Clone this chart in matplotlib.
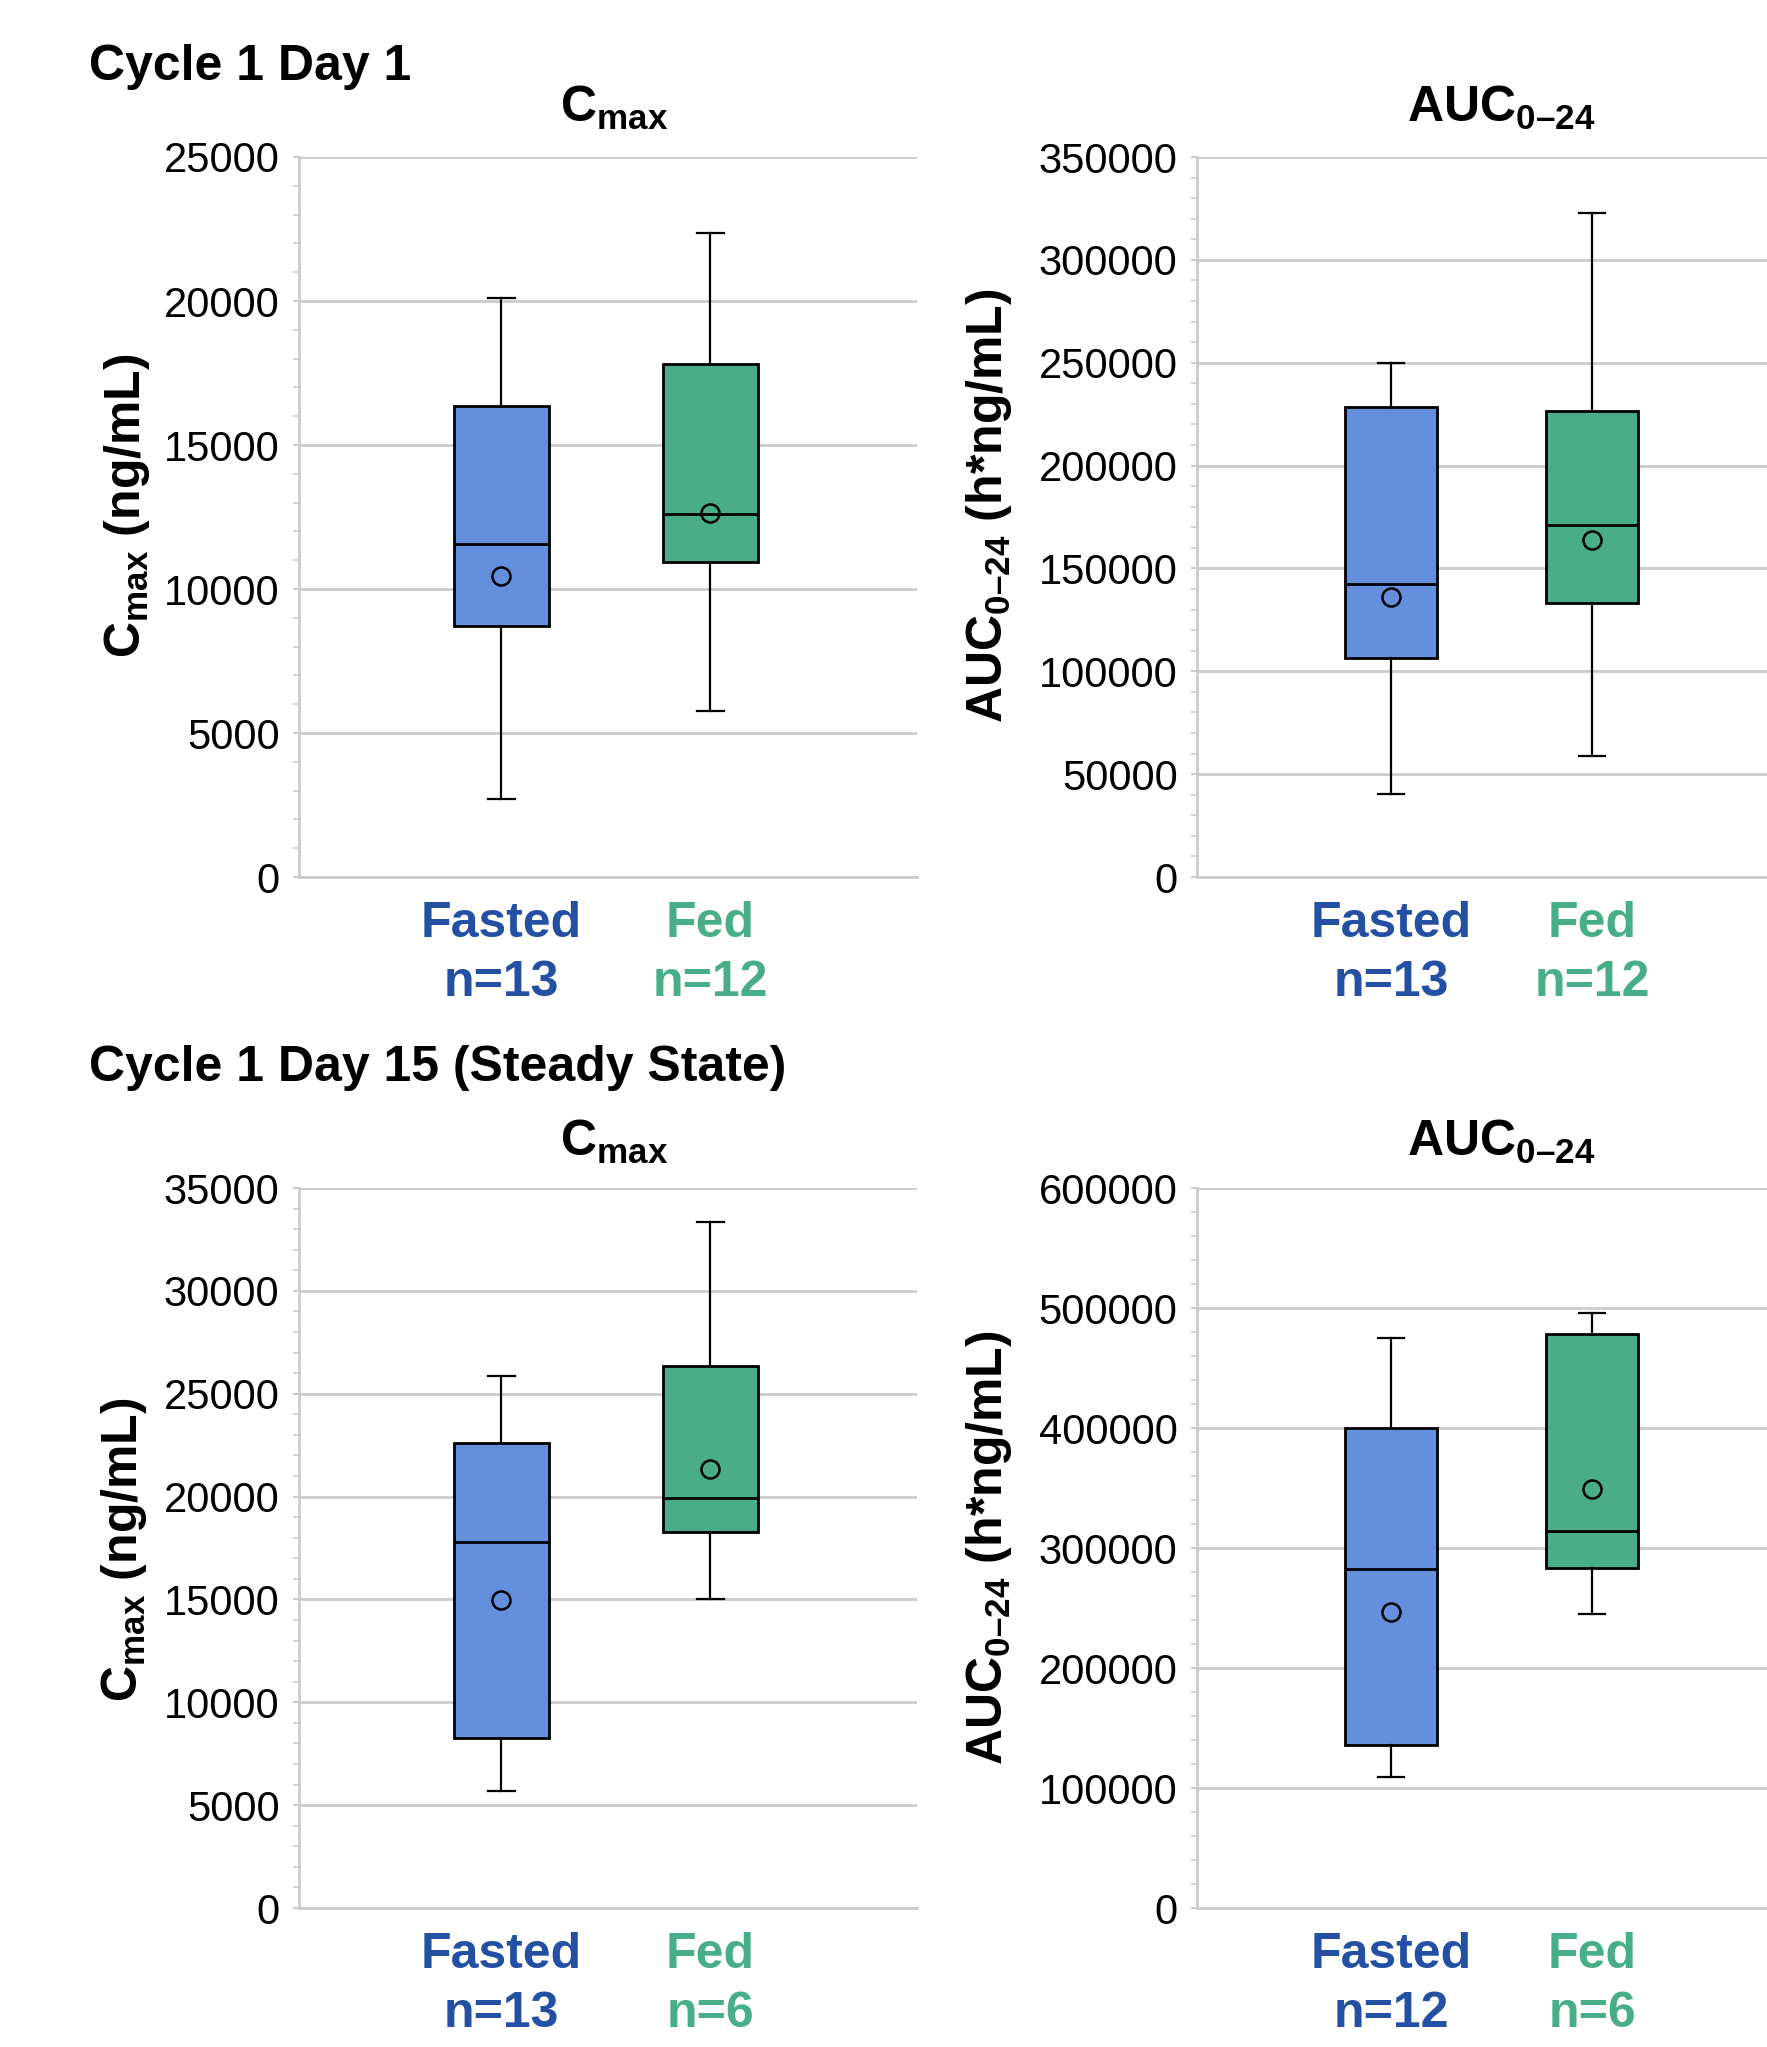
import numpy as np
import matplotlib as mpl
import matplotlib.pyplot as plt
from matplotlib.ticker import AutoMinorLocator, MultipleLocator

plt.rcParams['font.family'] = ['Liberation Sans', 'DejaVu Sans']
plt.rcParams['mathtext.fontset'] = 'custom'
plt.rcParams['mathtext.rm'] = 'Liberation Sans:bold'
plt.rcParams['mathtext.bf'] = 'Liberation Sans:bold'
plt.rcParams['mathtext.it'] = 'Liberation Sans:bold'

# values: [Fasted, Fed]
groups = ['Fasted', 'Fed']
group_colors = ['#648fdc', '#49ae88']
text_colors = ['#2350a3', '#48ae87']

# Cycle 1 Day 1
d1_n = [13, 12]
d1_cmax_lo = [2700, 5750]
d1_cmax_q1 = [8700, 10950]
d1_cmax_med = [11550, 12600]
d1_cmax_q3 = [16350, 17800]
d1_cmax_hi = [20100, 22350]
d1_cmax_mean = [10450, 12650]

d1_auc_lo = [40500, 59000]
d1_auc_q1 = [106500, 133000]
d1_auc_med = [142500, 171000]
d1_auc_q3 = [228500, 226500]
d1_auc_hi = [249800, 323000]
d1_auc_mean = [136000, 164000]

# Cycle 1 Day 15 (steady state)
d15_cmax_n = [13, 6]
d15_cmax_lo = [5700, 15000]
d15_cmax_q1 = [8250, 18300]
d15_cmax_med = [17800, 19950]
d15_cmax_q3 = [22580, 26350]
d15_cmax_hi = [25850, 33350]
d15_cmax_mean = [14950, 21350]

d15_auc_n = [12, 6]
d15_auc_lo = [109000, 245000]
d15_auc_q1 = [136000, 283500]
d15_auc_med = [282500, 314000]
d15_auc_q3 = [400000, 478500]
d15_auc_hi = [475000, 495500]
d15_auc_mean = [246500, 349000]

CMAX = r'$\mathbf{C_{max}}$'
AUC = r'$\mathbf{AUC_{0\endash24}}$'


def make_stats(lo, q1, med, q3, hi, mean):
    return [dict(whislo=lo[i], q1=q1[i], med=med[i], q3=q3[i], whishi=hi[i],
                 mean=mean[i], fliers=[]) for i in range(len(lo))]


def draw_panel(ax, stats, ymax, major, n, xlim):
    bp = ax.bxp(stats, positions=[1, 2], widths=0.455, capwidths=0.13,
                patch_artist=True, showmeans=True, showfliers=False,
                boxprops=dict(edgecolor='black', linewidth=2),
                medianprops=dict(color='black', linewidth=2),
                whiskerprops=dict(color='black', linewidth=1.6),
                capprops=dict(color='black', linewidth=1.6),
                meanprops=dict(marker='o', markerfacecolor='none',
                               markeredgecolor='black', markersize=13,
                               markeredgewidth=1.8))
    for patch, c in zip(bp['boxes'], group_colors):
        patch.set_facecolor(c)

    ax.set_xlim(*xlim)
    ax.set_ylim(0, ymax)
    ax.yaxis.set_major_locator(MultipleLocator(major))
    ax.yaxis.set_minor_locator(AutoMinorLocator(5))
    ax.grid(axis='y', color='#cccccc', linewidth=2)
    ax.set_axisbelow(True)
    for s in ['top', 'right']:
        ax.spines[s].set_visible(False)
    for s in ['left', 'bottom']:
        ax.spines[s].set_color('#cccccc')
        ax.spines[s].set_linewidth(2)
    ax.tick_params(axis='y', which='major', length=4, width=1.5,
                   color='#cccccc', labelsize=30, pad=10)
    ax.tick_params(axis='y', which='minor', length=4, width=1.2,
                   color='#cccccc')
    ax.set_xticks([1, 2])
    ax.set_xticklabels([f'{g}\nn={k}' for g, k in zip(groups, n)],
                       fontsize=36, fontweight='bold', linespacing=1.38)
    ax.tick_params(axis='x', length=0, pad=17)
    for lab, c in zip(ax.get_xticklabels(), text_colors):
        lab.set_color(c)


fig = plt.figure(figsize=(17.67, 20.47), dpi=100)

W, H = 1767, 2047


def add_ax(x0, y0, w, h):
    return fig.add_axes([x0 / W, 1 - (y0 + h) / H, w / W, h / H])


ax1 = add_ax(299, 157, 618, 720)
ax2 = add_ax(1197, 157, 587, 720)
ax3 = add_ax(299, 1188, 618, 720)
ax4 = add_ax(1197, 1188, 587, 720)

left_xlim = (0.033, 2.99)
right_xlim = (0.035, 2.955)

draw_panel(ax1, make_stats(d1_cmax_lo, d1_cmax_q1, d1_cmax_med, d1_cmax_q3,
                           d1_cmax_hi, d1_cmax_mean), 25000, 5000, d1_n,
           left_xlim)
draw_panel(ax2, make_stats(d1_auc_lo, d1_auc_q1, d1_auc_med, d1_auc_q3,
                           d1_auc_hi, d1_auc_mean), 350000, 50000, d1_n,
           right_xlim)
draw_panel(ax3, make_stats(d15_cmax_lo, d15_cmax_q1, d15_cmax_med, d15_cmax_q3,
                           d15_cmax_hi, d15_cmax_mean), 35000, 5000,
           d15_cmax_n, left_xlim)
draw_panel(ax4, make_stats(d15_auc_lo, d15_auc_q1, d15_auc_med, d15_auc_q3,
                           d15_auc_hi, d15_auc_mean), 600000, 100000,
           d15_auc_n, right_xlim)


def ftext(x, y, s, **kw):
    fig.text(x / W, 1 - y / H, s, **kw)


ftext(89, 67, 'Cycle 1 Day 1', fontsize=36, fontweight='bold', va='center')
ftext(89, 1068, 'Cycle 1 Day 15 (Steady State)', fontsize=36,
      fontweight='bold', va='center')

for y in [108, 1142]:
    ftext(614, y, CMAX, fontsize=36, ha='center', va='center')
    ftext(1501, y, AUC, fontsize=36, ha='center', va='center')

ftext(127, 506, CMAX + ' (ng/mL)', fontsize=36, fontweight='bold',
      rotation=90, ha='center', va='center')
ftext(989, 506, AUC + ' (h*ng/mL)', fontsize=36, fontweight='bold',
      rotation=90, ha='center', va='center')
ftext(124, 1550, CMAX + ' (ng/mL)', fontsize=36, fontweight='bold',
      rotation=90, ha='center', va='center')
ftext(989, 1548, AUC + ' (h*ng/mL)', fontsize=36, fontweight='bold',
      rotation=90, ha='center', va='center')

fig.savefig('out.png', dpi=100)
